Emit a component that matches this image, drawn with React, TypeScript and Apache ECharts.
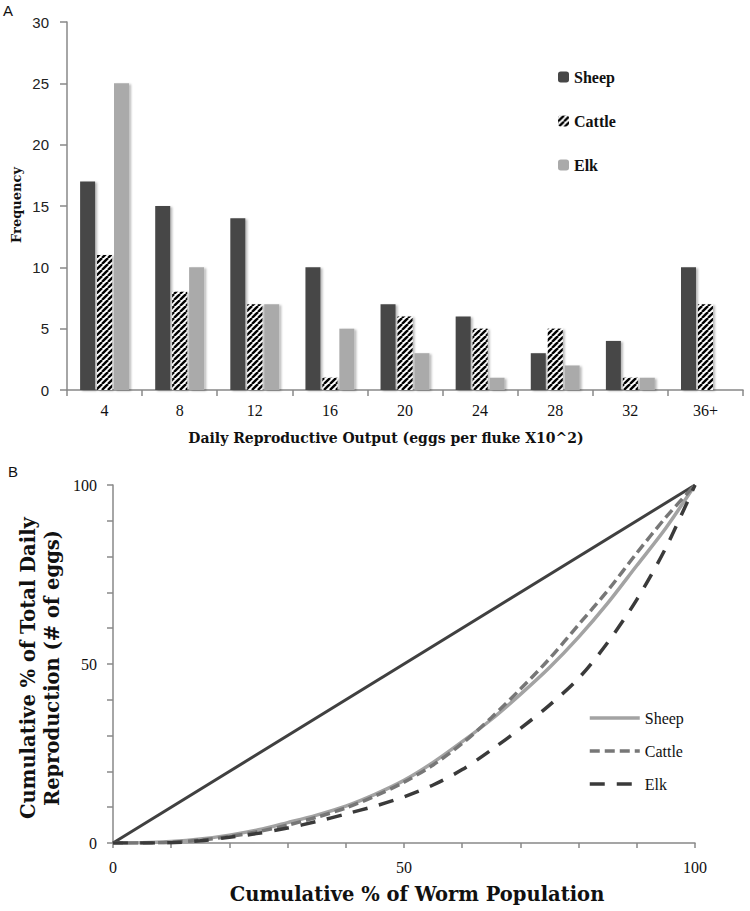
import React, { useEffect, useRef } from "react";
import * as echarts from "echarts";

// ---- Panel A data ----
const categories = ["4", "8", "12", "16", "20", "24", "28", "32", "36+"];
const sheepFreq = [17, 15, 14, 10, 7, 6, 3, 4, 10];
const cattleFreq = [11, 8, 7, 1, 6, 5, 5, 1, 7];
const elkFreq = [25, 10, 7, 5, 3, 1, 2, 1, 0];

// ---- Panel B data ----
const cumWorm = [0, 5, 10, 15, 20, 25, 30, 35, 40, 45, 50, 55, 60, 65, 70, 75, 80, 85, 90, 95, 100];
const sheepCum = [0, 0.05, 0.4, 1.1, 2.2, 3.7, 5.7, 7.8, 10.3, 13.6, 17.5, 22.5, 28.3, 34.5, 41.5, 49, 57.5, 67, 77.5, 88, 100];
const cattleCum = [0, 0.03, 0.2, 0.8, 1.8, 3.2, 5, 7.2, 9.8, 13.1, 17, 21.8, 27.8, 35, 43, 51.5, 61, 70.5, 81, 91, 100];
const elkCum = [0, 0.02, 0.1, 0.6, 1.6, 2.7, 4.2, 6, 8.1, 10.3, 12.9, 16.2, 20.5, 26, 32, 38.5, 46, 56, 68, 82.5, 100];
const equality = [[0, 0], [100, 100]];

const SERIF = "Liberation Serif";
const TITLE = "DejaVu Serif";
const SANS = "Liberation Sans";

function makeHatch() {
  const s = 6;
  const c = document.createElement("canvas");
  c.width = s;
  c.height = s;
  const ctx = c.getContext("2d")!;
  ctx.fillStyle = "#ffffff";
  ctx.fillRect(0, 0, s, s);
  ctx.strokeStyle = "#000000";
  ctx.lineWidth = 2.4;
  for (const x0 of [-s, 0, s]) {
    ctx.beginPath();
    ctx.moveTo(x0, s);
    ctx.lineTo(x0 + s, 0);
    ctx.stroke();
  }
  return c;
}

export default function App() {
  const ref = useRef<HTMLDivElement>(null);
  useEffect(() => {
    if (!ref.current) return;
    const chart = echarts.init(ref.current, null, { renderer: "svg" });
    const hatch = { image: makeHatch(), repeat: "repeat" } as any;
    const shadow = {
      shadowColor: "rgba(0,0,0,0.28)",
      shadowBlur: 2,
      shadowOffsetX: 2,
      shadowOffsetY: 1,
    };
    const pair = (ys: number[]) => cumWorm.map((x, i) => [x, ys[i]]);
    const axisLine = { show: true, lineStyle: { color: "#888", width: 1.5 } };

    chart.setOption({
      animation: false,
      backgroundColor: "#fff",
      grid: [
        { left: 67, top: 22, width: 676, height: 368 },
        { left: 113, top: 485, width: 582, height: 358 },
      ],
      xAxis: [
        {
          gridIndex: 0,
          type: "category",
          data: categories,
          axisLine,
          axisTick: { show: true, length: 6, lineStyle: { color: "#888", width: 1.5 } },
          axisLabel: { fontFamily: SERIF, fontSize: 16, color: "#111", margin: 12 },
        },
        {
          gridIndex: 1,
          type: "value",
          min: 0,
          max: 100,
          interval: 10,
          splitLine: { show: false },
          axisLine,
          axisTick: { show: true, length: 5, lineStyle: { color: "#888", width: 1.5 } },
          axisLabel: {
            fontFamily: SERIF,
            fontSize: 16,
            color: "#111",
            margin: 16,
            formatter: (v: number) => (v % 50 === 0 ? String(v) : ""),
          },
        },
      ],
      yAxis: [
        {
          gridIndex: 0,
          type: "value",
          min: 0,
          max: 30,
          interval: 5,
          splitLine: { show: false },
          axisLine,
          axisTick: { show: true, length: 7, lineStyle: { color: "#888", width: 1.5 } },
          axisLabel: { fontFamily: SANS, fontSize: 15, color: "#222", margin: 18 },
        },
        {
          gridIndex: 1,
          type: "value",
          min: 0,
          max: 100,
          interval: 10,
          splitLine: { show: false },
          axisLine,
          axisTick: { show: true, length: 6, lineStyle: { color: "#888", width: 1.5 } },
          axisLabel: {
            fontFamily: SERIF,
            fontSize: 16,
            color: "#111",
            margin: 16,
            formatter: (v: number) => (v % 50 === 0 ? String(v) : ""),
          },
        },
      ],
      legend: [
        {
          data: ["Sheep", "Cattle", "Elk"],
          orient: "vertical",
          left: 553,
          top: 64,
          itemWidth: 11,
          itemHeight: 11,
          itemGap: 28,
          textStyle: { fontFamily: SERIF, fontSize: 16, fontWeight: "bold", color: "#111" },
        },
        {
          data: ["Sheep (B)", "Cattle (B)", "Elk (B)"],
          orient: "vertical",
          left: 583,
          top: 705,
          itemWidth: 50,
          itemHeight: 14,
          itemGap: 17,
          itemStyle: { opacity: 0 },
          lineStyle: { width: 3.5 },
          formatter: (n: string) => n.replace(" (B)", ""),
          textStyle: { fontFamily: SERIF, fontSize: 16, color: "#111" },
        },
      ],
      series: [
        {
          name: "Sheep",
          type: "bar",
          xAxisIndex: 0,
          yAxisIndex: 0,
          data: sheepFreq,
          barWidth: 15,
          barGap: "13%",
          itemStyle: { color: "#474747", ...shadow },
        },
        {
          name: "Cattle",
          type: "bar",
          xAxisIndex: 0,
          yAxisIndex: 0,
          data: cattleFreq,
          barWidth: 15,
          barGap: "13%",
          itemStyle: { color: hatch, ...shadow },
        },
        {
          name: "Elk",
          type: "bar",
          xAxisIndex: 0,
          yAxisIndex: 0,
          data: elkFreq.map((v) => (v === 0 ? "-" : v)),
          barWidth: 15,
          barGap: "13%",
          itemStyle: { color: "#aaaaaa", ...shadow },
        },
        {
          name: "Equality",
          type: "line",
          xAxisIndex: 1,
          yAxisIndex: 1,
          data: equality,
          symbol: "none",
          lineStyle: { color: "#404040", width: 3 },
          z: 1,
        },
        {
          name: "Sheep (B)",
          type: "line",
          xAxisIndex: 1,
          yAxisIndex: 1,
          data: pair(sheepCum),
          symbol: "none",
          smooth: 0.3,
          itemStyle: { color: "#a3a3a3" },
          lineStyle: { color: "#a3a3a3", width: 3.5 },
          z: 2,
        },
        {
          name: "Cattle (B)",
          type: "line",
          xAxisIndex: 1,
          yAxisIndex: 1,
          data: pair(cattleCum),
          symbol: "none",
          smooth: 0.3,
          itemStyle: { color: "#777777" },
          lineStyle: { color: "#777777", width: 3.5, type: [10, 5] },
          z: 3,
        },
        {
          name: "Elk (B)",
          type: "line",
          xAxisIndex: 1,
          yAxisIndex: 1,
          data: pair(elkCum),
          symbol: "none",
          smooth: 0.3,
          itemStyle: { color: "#3a3a3a" },
          lineStyle: { color: "#3a3a3a", width: 3.5, type: [15, 12] },
          z: 4,
        },
      ],
      graphic: [
        { type: "text", left: 3, top: 3, style: { text: "A", fontFamily: SANS, fontSize: 15, fill: "#111" } },
        { type: "text", left: 8, top: 464, style: { text: "B", fontFamily: SANS, fontSize: 15, fill: "#111" } },
        {
          type: "text",
          x: 16,
          y: 205,
          rotation: Math.PI / 2,
          style: {
            text: "Frequency",
            fontFamily: TITLE,
            fontSize: 13,
            fontWeight: "bold",
            fill: "#111",
            textAlign: "center",
            textVerticalAlign: "middle",
          },
        },
        {
          type: "text",
          x: 386,
          y: 438,
          style: {
            text: "Daily Reproductive Output (eggs per fluke X10^2)",
            fontFamily: TITLE,
            fontSize: 14,
            fontWeight: "bold",
            fill: "#111",
            textAlign: "center",
            textVerticalAlign: "middle",
          },
        },
        {
          type: "text",
          x: 40,
          y: 668,
          rotation: Math.PI / 2,
          style: {
            text: "Cumulative % of Total Daily\nReproduction (# of eggs)",
            fontFamily: TITLE,
            fontSize: 19.5,
            fontWeight: "bold",
            lineHeight: 24,
            fill: "#111",
            textAlign: "center",
            textVerticalAlign: "middle",
          },
        },
        {
          type: "text",
          x: 417,
          y: 894,
          style: {
            text: "Cumulative % of Worm Population",
            fontFamily: TITLE,
            fontSize: 19.5,
            fontWeight: "bold",
            fill: "#111",
            textAlign: "center",
            textVerticalAlign: "middle",
          },
        },
      ],
    });
    return () => chart.dispose();
  }, []);
  return (
    <div
      ref={ref}
      style={{ position: "fixed", left: 0, top: 0, width: 750, height: 911, background: "#fff" }}
    />
  );
}
